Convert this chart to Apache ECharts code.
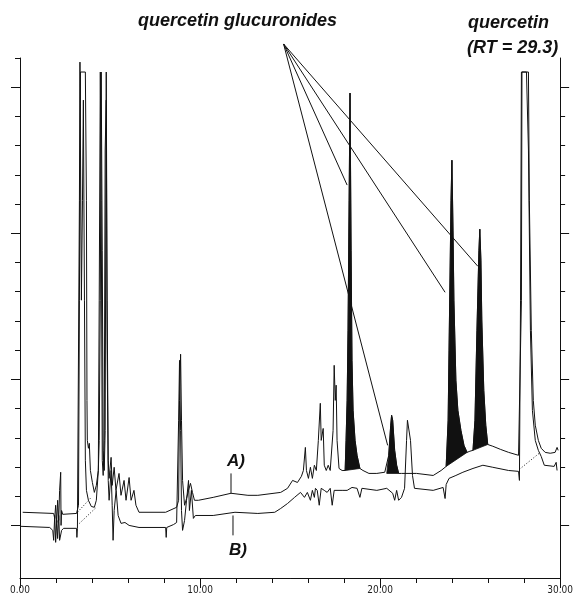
<!DOCTYPE html>
<html>
<head>
<meta charset="utf-8">
<script src="https://cdn.jsdelivr.net/npm/echarts@6/dist/echarts.min.js"></script>
<style>
html,body{margin:0;padding:0;background:#fff}
#chart{width:576px;height:598px}
</style>
</head>
<body>
<div id="chart"></div>
<script>
// retention time (min) , detector response (axis divisions)
var timeMajor = [0, 10, 20, 30];
var divTicks = [0,1,2,3,4,5,6,7,8,9,10,11,12,13,14,15,16];
var divTicksRight = [0,1,2,3,4,5,6,7,8,9,10,11,12,13,14,15];
var divMajor = [0, 5, 10, 15];

// trace A (upper), split round the four shaded glucuronide peaks
var aHead = [
  [0.15,0.45],[1.87,0.41],[1.93,0.24],[1.98,0.69],[2.04,0.10],[2.09,0.86],[2.15,0.17],[2.20,1.20],[2.26,1.82],[2.28,0.00],[2.31,0.51],[2.37,0.38],
  [3.14,0.41],[3.25,0.69],[3.30,7.71],[3.36,15.52],[3.63,15.52],[3.69,11.13],[3.72,4.28],[3.74,2.91],[3.80,2.64],[3.85,2.81],[3.91,1.88],[4.02,1.47],
  [4.13,1.13],[4.24,1.37],[4.35,1.88],[4.40,2.91],[4.46,7.71],[4.51,15.52],[4.57,9.42],[4.62,2.57],[4.68,1.88],[4.73,3.25],[4.79,15.52],[4.84,7.71],
  [4.90,2.23],[4.95,1.61],[5.06,2.33],[5.12,1.37],[5.23,1.99],[5.33,1.20],[5.50,1.78],[5.61,1.03],[5.78,1.54],[5.89,0.86],[6.06,1.64],[6.17,0.86],
  [6.33,1.20],[6.44,0.69],[6.61,0.45],[8.09,0.45],[8.70,0.62],[8.81,0.86],[8.86,4.28],[8.92,5.86],[8.97,3.60],[9.03,1.54],[9.14,0.69],[9.25,0.92],
  [9.36,1.20],[9.47,1.44],[9.58,1.13],[9.69,0.86],[9.91,0.86],[10.73,0.96],[11.72,1.10],[12.66,1.03],[13.21,1.03],[14.48,1.13],[14.86,1.27],
  [15.14,1.54],[15.41,1.47],[15.63,1.68],[15.74,1.88],[15.85,2.67],[15.91,1.88],[16.02,1.61],[16.13,1.99],[16.24,1.61],[16.35,2.06],[16.46,1.88],
  [16.57,2.91],[16.68,4.18],[16.73,2.91],[16.84,3.32],[16.90,2.06],[17.01,1.88],[17.12,2.06],[17.23,1.88],[17.39,3.25],[17.45,5.48],[17.51,4.28],
  [17.56,4.80],[17.61,2.91],[17.72,1.95],[17.89,1.88]
];
var gluc1 = [[18.06,1.88],[18.11,2.91],[18.17,4.28],[18.22,6.68],[18.28,11.13],[18.33,14.80],[18.39,9.42],[18.44,5.65],[18.50,3.94],[18.61,2.91],[18.72,2.40],[18.88,1.95]];
var aSeg2 = [[19.05,1.88],[19.38,1.78],[19.82,1.78],[20.26,1.82]];
var gluc2 = [[20.37,1.78],[20.48,2.40],[20.59,3.43],[20.64,3.77],[20.70,3.60],[20.81,2.57],[20.92,2.06],[21.03,1.78]];
var aSeg3 = [[21.19,1.78],[22.02,1.78],[22.95,1.71],[23.39,1.88]];
var gluc3 = [[23.67,2.02],[23.78,3.60],[23.83,6.00],[23.94,11.13],[23.99,12.50],[24.05,10.11],[24.10,7.71],[24.21,4.97],[24.32,3.94],[24.49,3.25],[24.66,2.74],[24.83,2.50]];
var aSeg4 = [[24.99,2.54]];
var gluc4 = [[25.16,2.57],[25.27,3.60],[25.38,6.68],[25.49,9.42],[25.54,10.14],[25.60,9.08],[25.65,7.03],[25.76,4.62],[25.87,3.43],[25.98,2.77]];
var aTail = [
  [26.26,2.71],[26.70,2.60],[27.14,2.50],[27.69,2.40],[27.80,2.40],[27.85,7.71],[27.88,15.52],[28.24,15.52],[28.29,11.13],[28.40,6.68],
  [28.51,4.28],[28.62,3.43],[28.79,2.91],[28.95,2.64],[29.17,2.50],[29.45,2.47],[29.72,2.50],[29.83,2.67],[29.89,2.57]
];

// trace B (lower)
var traceB = [
  [0.00,-0.03],[1.65,-0.07],[1.82,-0.17],[1.87,-0.51],[1.93,0.34],[1.98,-0.58],[2.04,0.17],[2.09,-0.45],[2.15,0.34],[2.20,-0.51],[2.31,-0.17],[2.42,-0.10],
  [3.14,-0.10],[3.16,-0.41],[3.19,-0.10],[3.25,-0.07],[3.30,11.13],[3.33,15.86],[3.36,12.85],[3.41,7.71],[3.47,11.13],[3.52,14.56],[3.58,7.71],[3.63,2.23],
  [3.69,1.20],[3.80,0.86],[3.96,0.65],[4.13,0.62],[4.24,0.86],[4.35,1.88],[4.40,7.71],[4.46,15.52],[4.51,11.13],[4.57,2.23],[4.62,1.71],[4.68,2.91],
  [4.73,12.85],[4.79,14.56],[4.84,6.00],[4.90,1.54],[4.95,0.86],[5.06,1.88],[5.12,0.69],[5.17,-0.51],[5.23,0.51],[5.34,1.20],[5.45,0.34],[5.61,0.07],
  [5.83,0.10],[6.06,0.00],[6.61,-0.07],[8.09,-0.07],[8.12,-0.41],[8.15,-0.07],[8.53,0.03],[8.70,0.10],[8.81,3.60],[8.86,5.65],[8.92,3.25],[8.97,0.51],
  [9.03,-0.17],[9.14,0.17],[9.25,0.86],[9.36,1.54],[9.41,0.51],[9.52,1.20],[9.63,0.24],[9.74,0.34],[10.73,0.34],[11.94,0.45],[13.21,0.41],[14.15,0.45],
  [14.48,0.58],[14.86,0.75],[15.25,0.96],[15.58,1.13],[15.80,0.96],[15.96,1.13],[16.13,0.86],[16.24,1.20],[16.35,0.96],[16.41,1.27],[16.51,1.20],
  [16.62,0.69],[16.73,1.27],[16.90,1.20],[17.06,1.13],[17.23,1.27],[17.34,0.69],[17.45,1.20],[17.89,1.20],[18.17,1.20],[18.44,1.30],[18.72,1.27],
  [18.88,0.96],[18.99,1.27],[19.82,1.20],[20.37,1.27],[20.70,1.10],[20.81,0.86],[20.92,1.20],[21.03,0.86],[21.19,0.96],[21.36,1.27],[21.47,2.91],
  [21.52,3.60],[21.58,3.63],[21.69,2.91],[21.80,1.71],[21.91,1.27],[22.02,1.23],[22.95,1.20],[23.50,1.30],[23.61,0.92],[23.67,1.40],[23.83,1.61],
  [24.21,1.71],[24.60,1.82],[25.16,1.95],[25.71,2.06],[26.26,1.99],[27.14,1.88],[27.69,1.85],[27.74,1.54],[27.80,7.71],[27.85,15.52],[28.13,15.52],
  [28.24,12.85],[28.35,6.68],[28.46,3.94],[28.62,2.91],[28.79,2.57],[28.95,2.36],[29.12,2.06],[29.23,2.02],[29.67,2.02],[29.78,2.16],[29.83,1.88]
];

// integration baselines (dotted)
var dottedBase = [
  [[3.30,0.07],[4.24,0.62]],
  [[3.19,0.45],[3.96,0.96]],
  [[27.74,1.92],[28.84,2.47]]
];

// label pointers and annotation lines
var pointerA = [[11.72,1.78],[11.72,1.10]];
var pointerB = [[11.83,0.34],[11.83,-0.34]];
var noteOrigin = [14.64,16.48];
var noteTargets = [[18.17,11.65],[20.42,2.74],[23.61,7.98],[25.43,8.87]];

var traceA = [].concat(aHead, gluc1, aSeg2, gluc2, aSeg3, gluc3, aSeg4, gluc4, aTail);
var filledPeaks = [gluc1, gluc2, gluc3, gluc4];

var ink = '#111';
var chart = echarts.init(document.getElementById('chart'), null, {renderer: 'canvas'});

function lineSeries(data, extra) {
  var s = {
    type: 'line', data: data, showSymbol: false, symbol: 'none', silent: true,
    lineStyle: {color: ink, width: 1}, animation: false
  };
  for (var k in extra) s[k] = extra[k];
  return s;
}

var series = [
  {
    type: 'custom',
    data: filledPeaks.map(function (p) { return [p[0][0], p[0][1]]; }),
    renderItem: function (params, api) {
      var pts = filledPeaks[params.dataIndex].map(function (p) { return api.coord(p); });
      return {type: 'polygon', shape: {points: pts}, style: {fill: ink, stroke: ink, lineWidth: 0.8}};
    },
    silent: true, animation: false
  },
  lineSeries(traceB),
  lineSeries(traceA),
  lineSeries(pointerA),
  lineSeries(pointerB)
];
dottedBase.forEach(function (seg) {
  series.push(lineSeries(seg, {lineStyle: {color: ink, width: 1, type: [1, 2]}}));
});
noteTargets.forEach(function (t) {
  series.push(lineSeries([noteOrigin, t], {clip: false}));
});

function yAx(pos, ticks, len, line) {
  return {
    type: 'value', min: -1.8, max: 16, position: pos,
    axisLine: {show: line, onZero: false, lineStyle: {color: ink, width: 1}},
    axisTick: {show: true, customValues: ticks, length: len, lineStyle: {color: ink, width: 1}},
    axisLabel: {show: false},
    splitLine: {show: false}
  };
}

var titleFont = 'italic bold 18px "Liberation Sans", Arial, sans-serif';
var tagFont = 'italic bold 17px "Liberation Sans", Arial, sans-serif';

chart.setOption({
  animation: false,
  grid: {left: 20, right: 11, top: 58, bottom: 20},
  xAxis: [
    {
      type: 'value', min: 0, max: 30, interval: 2, position: 'bottom',
      axisLine: {show: true, onZero: false, lineStyle: {color: ink, width: 1}},
      axisTick: {show: true, length: 5, lineStyle: {color: ink, width: 1}},
      axisLabel: {
        show: true, margin: 7, showMinLabel: true, showMaxLabel: true,
        fontFamily: 'DejaVu Sans Condensed', fontSize: 10, color: '#222',
        formatter: function (v) { return timeMajor.indexOf(v) >= 0 ? v.toFixed(2) : ''; }
      },
      splitLine: {show: false}
    },
    {
      type: 'value', min: 0, max: 30, interval: 10, position: 'bottom',
      axisLine: {show: false, onZero: false},
      axisTick: {show: true, length: 10, lineStyle: {color: ink, width: 1}},
      axisLabel: {show: false},
      splitLine: {show: false}
    }
  ],
  yAxis: [
    yAx('left', divTicks, 5, true),
    yAx('left', divMajor, 9, false),
    yAx('right', divTicksRight, 5, true),
    yAx('right', divMajor, 9, false)
  ],
  graphic: [
    {type: 'text', x: 138, y: 21, style: {text: 'quercetin glucuronides', font: titleFont, fill: ink, align: 'left', verticalAlign: 'middle'}},
    {type: 'text', x: 468, y: 23, style: {text: 'quercetin', font: titleFont, fill: ink, align: 'left', verticalAlign: 'middle'}},
    {type: 'text', x: 467, y: 48, style: {text: '(RT = 29.3)', font: titleFont, fill: ink, align: 'left', verticalAlign: 'middle'}},
    {type: 'text', x: 236, y: 461, style: {text: 'A)', font: tagFont, fill: ink, align: 'center', verticalAlign: 'middle'}},
    {type: 'text', x: 238, y: 550, style: {text: 'B)', font: tagFont, fill: ink, align: 'center', verticalAlign: 'middle'}}
  ],
  series: series
});
</script>
</body>
</html>
